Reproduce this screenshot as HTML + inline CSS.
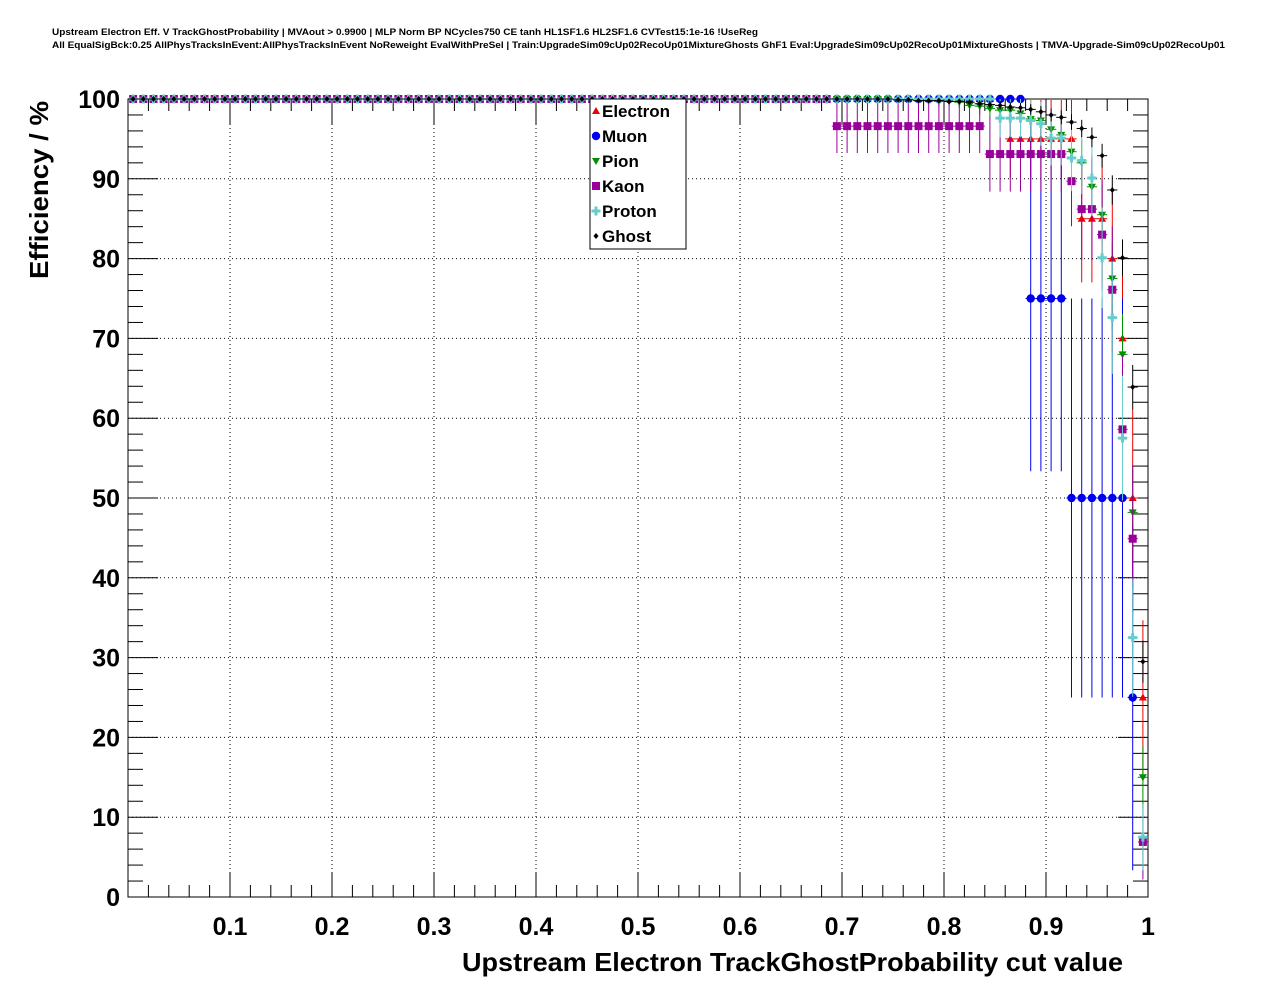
<!DOCTYPE html>
<html><head><meta charset="utf-8">
<style>
html,body{margin:0;padding:0;background:#fff;}
svg{display:block;font-family:"Liberation Sans",Arial,sans-serif;}
</style></head>
<body>
<svg id="chart" width="1276" height="996" viewBox="0 0 1276 996" xmlns="http://www.w3.org/2000/svg">
<rect x="0" y="0" width="1276" height="996" fill="#fff"/>
<text x="52" y="35" font-size="9" font-weight="bold" textLength="706" lengthAdjust="spacingAndGlyphs">Upstream Electron Eff. V TrackGhostProbability | MVAout &gt; 0.9900 | MLP Norm BP NCycles750 CE tanh HL1SF1.6 HL2SF1.6 CVTest15:1e-16 !UseReg</text>
<text x="52" y="48" font-size="9" font-weight="bold" textLength="1173" lengthAdjust="spacingAndGlyphs">All EqualSigBck:0.25 AllPhysTracksInEvent:AllPhysTracksInEvent NoReweight EvalWithPreSel | Train:UpgradeSim09cUp02RecoUp01MixtureGhosts GhF1 Eval:UpgradeSim09cUp02RecoUp01MixtureGhosts | TMVA-Upgrade-Sim09cUp02RecoUp01</text>
<g id="grid"></g>
<g id="axes"></g>
<g id="series"></g>
<text x="462" y="971" font-size="26" font-weight="bold" textLength="661" lengthAdjust="spacingAndGlyphs">Upstream Electron TrackGhostProbability cut value</text>
<text transform="translate(48,279) rotate(-90)" font-size="26" font-weight="bold" textLength="178" lengthAdjust="spacingAndGlyphs">Efficiency / %</text>
<g id="legend"></g>
</svg>
<script>
const xTickLabels = ["0.1","0.2","0.3","0.4","0.5","0.6","0.7","0.8","0.9","1"];
const xTickValues = [0.1,0.2,0.3,0.4,0.5,0.6,0.7,0.8,0.9,1.0];
const yTickValues = [0,10,20,30,40,50,60,70,80,90,100];
const yTickLabels = ["0","10","20","30","40","50","60","70","80","90","100"];
const binWidth = 0.01;
const speciesNames = ["Electron","Muon","Pion","Kaon","Proton","Ghost"];
const speciesN = [20,4,85,29,40,300];
const electronEff = [
100,100,100,100,100,100,100,100,100,100,
100,100,100,100,100,100,100,100,100,100,
100,100,100,100,100,100,100,100,100,100,
100,100,100,100,100,100,100,100,100,100,
100,100,100,100,100,100,100,100,100,100,
100,100,100,100,100,100,100,100,100,100,
100,100,100,100,100,100,100,100,100,100,
100,100,100,100,100,100,100,100,100,100,
100,100,100,100,100,100,
95,95,95,95,95,95,95,85,85,85,80,70,50,25];
const muonEff = [
100,100,100,100,100,100,100,100,100,100,
100,100,100,100,100,100,100,100,100,100,
100,100,100,100,100,100,100,100,100,100,
100,100,100,100,100,100,100,100,100,100,
100,100,100,100,100,100,100,100,100,100,
100,100,100,100,100,100,100,100,100,100,
100,100,100,100,100,100,100,100,100,100,
100,100,100,100,100,100,100,100,100,100,
100,100,100,100,100,100,100,100,
75,75,75,75,50,50,50,50,50,50,25,null];
const pionEff = [
100,100,100,100,100,100,100,100,100,100,
100,100,100,100,100,100,100,100,100,100,
100,100,100,100,100,100,100,100,100,100,
100,100,100,100,100,100,100,100,100,100,
100,100,100,100,100,100,100,100,100,100,
100,100,100,100,100,100,100,100,100,100,
100,100,100,100,100,100,100,100,100,100,
100,100,100,100,100,
99.9,99.9,99.8,99.8,99.7,99.7,
99.6,99.2,99.1,98.8,98.6,98.6,98.2,97.5,97.3,96.2,95.5,93.4,92.0,89.0,85.5,77.5,68.0,48.2,15.0];
const kaonEff = [
100,100,100,100,100,100,100,100,100,100,
100,100,100,100,100,100,100,100,100,100,
100,100,100,100,100,100,100,100,100,100,
100,100,100,100,100,100,100,100,100,100,
100,100,100,100,100,100,100,100,100,100,
100,100,100,100,100,100,100,100,100,100,
100,100,100,100,100,100,100,100,100,
96.6,96.6,96.6,96.6,96.6,96.6,96.6,96.6,96.6,96.6,96.6,96.6,96.6,96.6,96.6,
93.1,93.1,93.1,93.1,93.1,93.1,93.1,93.1,
89.7,86.2,86.2,83.0,76.1,58.6,44.9,6.9];
const protonEff = [
100,100,100,100,100,100,100,100,100,100,
100,100,100,100,100,100,100,100,100,100,
100,100,100,100,100,100,100,100,100,100,
100,100,100,100,100,100,100,100,100,100,
100,100,100,100,100,100,100,100,100,100,
100,100,100,100,100,100,100,100,100,100,
100,100,100,100,100,100,100,100,100,100,
100,100,100,100,100,100,100,100,100,100,
100,100,100,100,100,
97.6,97.6,97.6,97.3,96.9,95.1,95.1,92.6,92.3,90.1,80.1,72.6,57.5,32.5,7.5];
const ghostEff = [
100,100,100,100,100,100,100,100,100,100,
100,100,100,100,100,100,100,100,100,100,
100,100,100,100,100,100,100,100,100,100,
100,100,100,100,100,100,100,100,100,100,
100,100,100,100,100,100,100,100,100,100,
100,100,100,100,100,100,100,100,100,100,
100,100,100,100,100,100,100,100,100,100,
100,100,100,100,100,
99.9,99.9,99.8,99.8,99.8,99.7,
99.7,99.6,99.4,99.3,99.2,99.0,98.9,98.7,98.4,98.0,97.7,97.1,96.3,95.2,92.9,88.6,80.1,63.9,29.5];

const NS="http://www.w3.org/2000/svg";
const X0=128,X1=1148,Y0=897,Y1=99;
function xs(v){return X0+(v-0)/(1-0)*(X1-X0);}
function ys(v){return Y0-(v-0)/(100-0)*(Y0-Y1);}
function mk(tag,attrs,parent){const e=document.createElementNS(NS,tag);for(const k in attrs)e.setAttribute(k,attrs[k]);parent.appendChild(e);return e;}

const grid=document.getElementById('grid');
xTickValues.forEach((v,i)=>{ if(v<1){
  const l=mk('line',{x1:xs(v),x2:xs(v),y1:Y0,y2:Y1,stroke:'#000','stroke-width':1,'stroke-dasharray':'1,3'},grid);
  
  
}});
yTickValues.forEach(v=>{ if(v>0&&v<100){
  const l=mk('line',{x1:X0,x2:X1,y1:ys(v),y2:ys(v),stroke:'#000','stroke-width':1,'stroke-dasharray':'1,3'},grid);
  
  
}});

const axes=document.getElementById('axes');
const frame=mk('rect',{x:X0,y:Y1,width:X1-X0,height:Y0-Y1,fill:'none',stroke:'#000','stroke-width':1},axes);


for(let k=1;k<50;k++){
  const v=k*0.02; const major=(k%5===0); const len=major?25:12;
  const b=mk('line',{x1:xs(v),x2:xs(v),y1:Y0,y2:Y0-len,stroke:'#000','stroke-width':1},axes);
  
  
  const t=mk('line',{x1:xs(v),x2:xs(v),y1:Y1,y2:Y1+len,stroke:'#000','stroke-width':1},axes);
  
  
}
for(let k=1;k<50;k++){
  const v=k*2; const major=(k%5===0); const len=major?30:15;
  const a=mk('line',{x1:X0,x2:X0+len,y1:ys(v),y2:ys(v),stroke:'#000','stroke-width':1},axes);
  
  
  const c=mk('line',{x1:X1,x2:X1-len,y1:ys(v),y2:ys(v),stroke:'#000','stroke-width':1},axes);
  
  
}
xTickValues.forEach((v,i)=>{
  const t=mk('text',{x:xs(v),y:935,'font-size':25,'font-weight':'bold','text-anchor':'middle'},axes);
  t.textContent=xTickLabels[i];
  
  
});
yTickValues.forEach((v,i)=>{
  const t=mk('text',{x:120,y:ys(v)+9,'font-size':25,'font-weight':'bold','text-anchor':'end'},axes);
  t.textContent=yTickLabels[i];
  
  
});

const colors=['#ee0000','#0000ee','#008f00','#990099','#66cccc','#000000'];
const data=[electronEff,muonEff,pionEff,kaonEff,protonEff,ghostEff];
function marker(kind,cx,cy,color,parent){
  let e;
  if(kind===0) e=mk('polygon',{points:`${cx},${cy-4} ${cx+4},${cy+3} ${cx-4},${cy+3}`,fill:color},parent);
  else if(kind===1) e=mk('circle',{cx:cx,cy:cy,r:4.2,fill:color},parent);
  else if(kind===2) e=mk('polygon',{points:`${cx-4},${cy-3} ${cx+4},${cy-3} ${cx},${cy+4}`,fill:color},parent);
  else if(kind===3) e=mk('rect',{x:cx-4,y:cy-4,width:8,height:8,fill:color},parent);
  else if(kind===4) e=mk('path',{d:`M${cx-1.5},${cy-4.5}h3v3h3v3h-3v3h-3v-3h-3v-3h3z`,fill:color},parent);
  else e=mk('polygon',{points:`${cx},${cy-3} ${cx+2.5},${cy} ${cx},${cy+3} ${cx-2.5},${cy}`,fill:color},parent);
  return e;
}
const series=document.getElementById('series');
data.forEach((arr,s)=>{
  const g=mk('g',{},series);
  
  
  arr.forEach((v,i)=>{
    if(v===null) return;
    const xc=(i+0.5)*binWidth;
    const p=v/100; const err=100*Math.sqrt(p*(1-p)/speciesN[s]);
    const lo=Math.max(0,v-err), hi=Math.min(100,v+err);
    const cx=xs(xc), cy=ys(v);
    if(err>0){
      const ev=mk('line',{x1:cx,x2:cx,y1:ys(lo),y2:ys(hi),stroke:colors[s],'stroke-width':1},g);
      
      
    }
    const eh=mk('line',{x1:xs(xc-binWidth/2),x2:xs(xc+binWidth/2),y1:cy,y2:cy,stroke:colors[s],'stroke-width':1},g);
    
    
    const m=marker(s,cx,cy,colors[s],g);
    
    
  });
});

const legend=document.getElementById('legend');
const box=mk('rect',{x:590,y:99,width:96,height:150,fill:'#fff',stroke:'#000','stroke-width':1},legend);


speciesNames.forEach((n,s)=>{
  const yy=111+s*25;
  const g=mk('g',{},legend);
  
  
  marker(s,596,yy,colors[s],g);
  const t=mk('text',{x:602,y:yy+6,'font-size':17,'font-weight':'bold'},g);
  t.textContent=n;
});
</script>
</body></html>
